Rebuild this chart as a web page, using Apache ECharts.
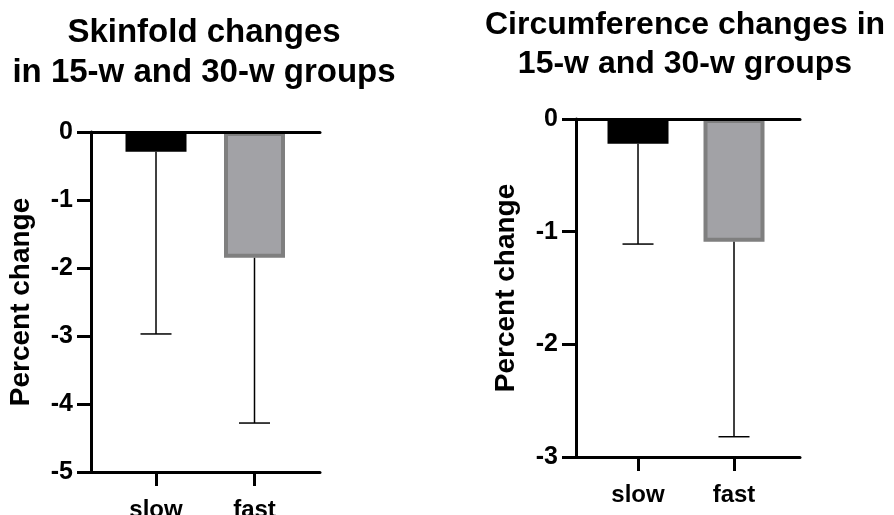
<!DOCTYPE html>
<html>
<head>
<meta charset="utf-8">
<script src="https://cdn.jsdelivr.net/npm/echarts@6/dist/echarts.min.js"></script>
<style>
html,body{margin:0;padding:0;background:#fff;}
#chart{width:894px;height:515px;}
</style>
</head>
<body>
<div id="chart"></div>
<script>
// ---- data ----
const categories = ['slow', 'fast'];
const titles = ['Skinfold changes\nin 15-w and 30-w groups', 'Circumference changes in\n15-w and 30-w groups'];
const yAxisName = 'Percent change';
const skinfoldMean = [-0.29, -1.85];
const skinfoldLow = [-2.97, -4.28];
const circMean = [-0.22, -1.09];
const circLow = [-1.11, -2.82];
const skinfoldTicks = { min: -5, max: 0, interval: 1 };
const circTicks = { min: -3, max: 0, interval: 1 };

// ---- styles ----
const FONT = '"Liberation Sans", Arial, Helvetica, sans-serif';
const barStyles = [
  { color: '#000000', borderColor: '#000000', borderWidth: 4 },
  { color: '#a2a2a6', borderColor: '#7f7f7f', borderWidth: 4 }
];

const chart = echarts.init(document.getElementById('chart'));

function catPos(i) { return i + 1; }

function buildBars(means, gi) {
  return {
    type: 'bar',
    xAxisIndex: gi * 2,
    yAxisIndex: gi,
    barWidth: 61,
    z: 2,
    data: categories.map((c, i) => ({ value: [catPos(i), means[i]], itemStyle: barStyles[i] }))
  };
}

function buildErr(means, lows, gi) {
  return {
    type: 'custom',
    xAxisIndex: gi * 2,
    yAxisIndex: gi,
    z: 3,
    data: categories.map((c, i) => [catPos(i), means[i], lows[i]]),
    encode: { x: 0, y: [1, 2] },
    renderItem: function (params, api) {
      const x = api.value(0);
      const p1 = api.coord([x, api.value(1)]);
      const p2 = api.coord([x, api.value(2)]);
      const hw = 15.5;
      const st = { stroke: '#000', lineWidth: 1.5 };
      return {
        type: 'group',
        children: [
          { type: 'line', shape: { x1: p1[0], y1: p1[1], x2: p2[0], y2: p2[1] }, style: st },
          { type: 'line', shape: { x1: p2[0] - hw, y1: p2[1], x2: p2[0] + hw, y2: p2[1] }, style: st }
        ]
      };
    }
  };
}

function bottomAxis(gi, min, max) {
  return {
    type: 'value', gridIndex: gi, position: 'bottom', min: min, max: max, z: 10,
    splitLine: { show: false },
    axisLine: { show: true, onZero: false, lineStyle: { color: '#000', width: 3 } },
    axisTick: { show: true, customValues: categories.map((c, i) => catPos(i)), length: 14, inside: false, lineStyle: { color: '#000', width: 3 } },
    axisLabel: {
      show: true, customValues: categories.map((c, i) => catPos(i)),
      formatter: v => categories[Math.round(v) - 1] || '',
      margin: 26, color: '#000', fontSize: 24, fontWeight: 'bold', fontFamily: FONT
    }
  };
}
function topAxis(gi, min, max) {
  return {
    type: 'value', gridIndex: gi, position: 'top', min: min, max: max, z: 10,
    splitLine: { show: false },
    axisLine: { show: true, onZero: false, lineStyle: { color: '#000', width: 3 } },
    axisTick: { show: false },
    axisLabel: { show: false }
  };
}
function leftAxis(gi, t) {
  return {
    type: 'value', gridIndex: gi, min: t.min, max: t.max, interval: t.interval, z: 10,
    name: yAxisName, nameLocation: 'middle', nameGap: 56, nameRotate: 90,
    nameTextStyle: { color: '#000', fontSize: 28, fontWeight: 'bold', fontFamily: FONT },
    splitLine: { show: false },
    axisLine: { show: true, onZero: false, lineStyle: { color: '#000', width: 3 } },
    axisTick: { show: true, length: 14, lineStyle: { color: '#000', width: 3 } },
    axisLabel: { margin: 18, color: '#000', fontSize: 25, fontWeight: 'bold', fontFamily: FONT }
  };
}

const option = {
  animation: false,
  backgroundColor: '#fff',
  title: [
    { text: titles[0], left: 204, top: 13, textAlign: 'center', padding: 0,
      textStyle: { color: '#000', fontSize: 33, fontWeight: 'bold', fontFamily: FONT, lineHeight: 40 } },
    { text: titles[1], left: 685, top: 6, textAlign: 'center', padding: 0,
      textStyle: { color: '#000', fontSize: 32, fontWeight: 'bold', fontFamily: FONT, lineHeight: 39 } }
  ],
  grid: [
    { left: 91, width: 229, top: 132, height: 340, containLabel: false, outerBoundsMode: 'none' },
    { left: 576, width: 224, top: 119, height: 338, containLabel: false, outerBoundsMode: 'none' }
  ],
  xAxis: [
    bottomAxis(0, 0.34, 2.665), topAxis(0, 0.34, 2.665),
    bottomAxis(1, 0.354, 2.6875), topAxis(1, 0.354, 2.6875)
  ],
  yAxis: [leftAxis(0, skinfoldTicks), leftAxis(1, circTicks)],
  series: [
    buildBars(skinfoldMean, 0), buildErr(skinfoldMean, skinfoldLow, 0),
    buildBars(circMean, 1), buildErr(circMean, circLow, 1)
  ]
};
chart.setOption(option);
</script>
</body>
</html>
